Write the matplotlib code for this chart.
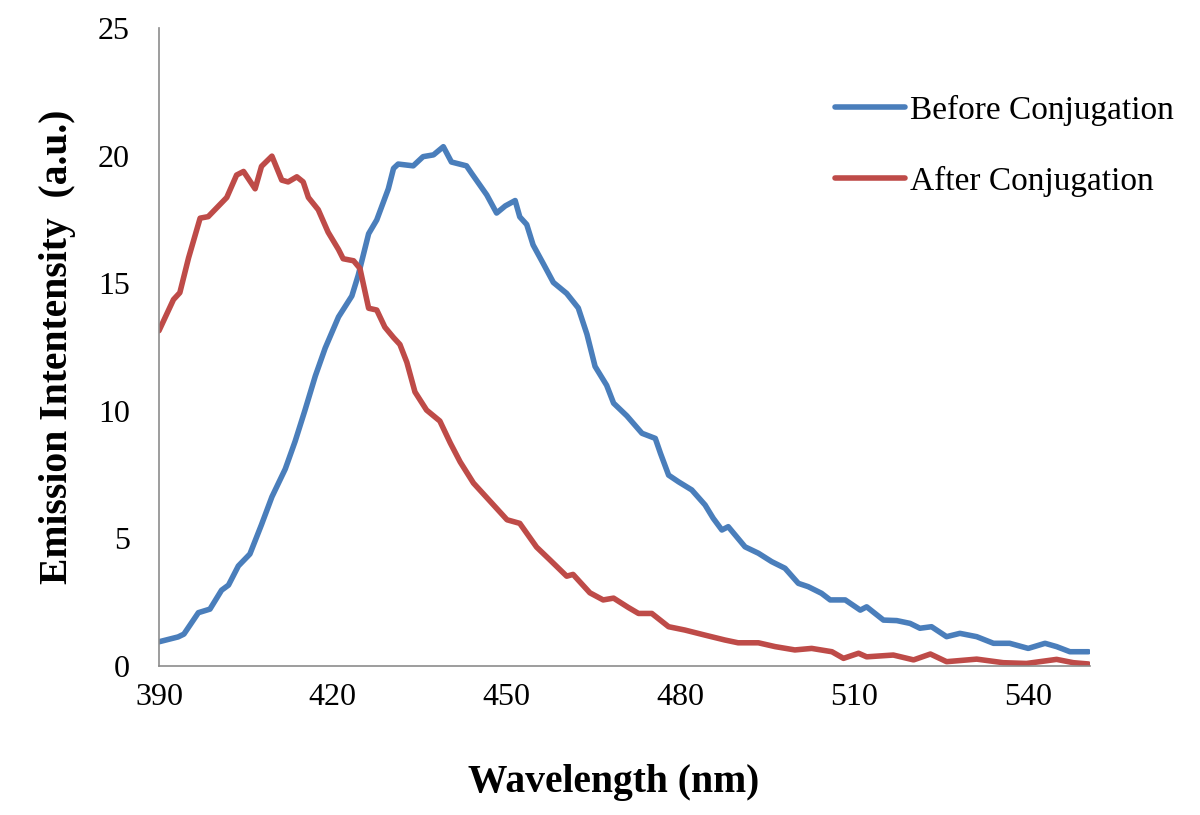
import matplotlib
matplotlib.use("Agg")
import matplotlib.pyplot as plt

# before conjugation (blue)
before_wl = [390.0, 393.3, 394.3, 396.8, 398.8, 400.8, 402.0, 403.7, 405.7, 407.7,
             409.5, 411.8, 413.5, 415.2, 417.0, 418.7, 421.0, 423.3, 424.4, 426.2,
             427.6, 429.6, 430.5, 431.3, 433.9, 435.6, 437.4, 439.1, 440.5, 443.1,
             444.0, 446.6, 448.3, 449.8, 451.5, 452.3, 453.5, 454.6, 456.4, 458.1,
             460.4, 462.4, 463.9, 465.3, 467.3, 468.5, 470.8, 473.4, 475.7, 476.6,
             478.0, 479.7, 482.0, 484.3, 485.7, 487.2, 488.3, 491.2, 493.5, 495.8,
             498.1, 500.4, 502.1, 504.4, 505.9, 508.5, 511.1, 512.2, 515.1, 517.4,
             519.7, 521.4, 523.4, 526.0, 528.3, 531.2, 534.1, 536.9, 540.1, 543.0,
             545.0, 547.3, 550.5]
before_int = [0.95, 1.14, 1.25, 2.09, 2.23, 2.97, 3.17, 3.92, 4.39, 5.54,
              6.63, 7.72, 8.8, 10.02, 11.37, 12.46, 13.68, 14.5, 15.31, 16.94,
              17.48, 18.7, 19.5, 19.67, 19.6, 19.96, 20.03, 20.35, 19.75, 19.6,
              19.3, 18.46, 17.75, 18.03, 18.24, 17.6, 17.3, 16.5, 15.75, 15.03,
              14.6, 14.03, 13.0, 11.74, 11.0, 10.3, 9.8, 9.12, 8.92, 8.33,
              7.48, 7.22, 6.9, 6.31, 5.79, 5.33, 5.46, 4.67, 4.42, 4.09,
              3.83, 3.24, 3.11, 2.85, 2.59, 2.59, 2.19, 2.32, 1.8, 1.78,
              1.67, 1.48, 1.54, 1.15, 1.28, 1.15, 0.89, 0.89, 0.69, 0.89,
              0.76, 0.56, 0.56]

# after conjugation (red)
after_wl = [390.0, 392.5, 393.6, 395.1, 397.1, 398.5, 401.7, 403.4, 404.6, 406.6,
            407.7, 409.5, 411.2, 412.3, 413.8, 414.9, 415.8, 417.5, 419.2, 421.0,
            421.8, 423.6, 424.7, 426.2, 427.6, 429.0, 430.5, 431.6, 432.8, 434.2,
            436.2, 438.5, 440.3, 442.0, 444.3, 447.2, 450.1, 452.3, 455.2, 457.5,
            460.4, 461.5, 464.4, 466.7, 468.5, 471.0, 472.8, 475.1, 478.0, 480.8,
            484.3, 487.7, 490.0, 493.5, 496.4, 499.8, 502.7, 506.2, 508.2, 510.8,
            512.2, 516.8, 520.3, 523.2, 526.0, 531.2, 535.8, 539.8, 545.0, 547.9,
            550.5]
after_int = [13.14, 14.36, 14.63, 15.99, 17.55, 17.61, 18.36, 19.24, 19.38, 18.7,
             19.58, 19.98, 19.04, 18.97, 19.17, 18.97, 18.36, 17.88, 17.0, 16.32,
             15.96, 15.88, 15.58, 14.02, 13.95, 13.28, 12.87, 12.6, 11.9, 10.74,
             10.03, 9.6, 8.74, 8.0, 7.17, 6.45, 5.73, 5.59, 4.66, 4.16,
             3.52, 3.59, 2.87, 2.59, 2.66, 2.3, 2.06, 2.06, 1.54, 1.41,
             1.21, 1.02, 0.91, 0.91, 0.76, 0.63, 0.69, 0.56, 0.3, 0.5,
             0.36, 0.43, 0.24, 0.47, 0.17, 0.27, 0.13, 0.1, 0.26, 0.13,
             0.08]

xticks = [390, 420, 450, 480, 510, 540]
yticks = [0, 5, 10, 15, 20, 25]

plt.rcParams['font.family'] = ['Liberation Serif', 'DejaVu Serif']

fig = plt.figure(figsize=(12, 8.15), dpi=100)
ax = fig.add_axes([0.1325, 0.1828, 0.776, 0.7828])

ax.plot(before_wl, before_int, color='#4A7EBB', lw=4.0, label='Before Conjugation',
        solid_joinstyle='round', solid_capstyle='round')
ax.plot(after_wl, after_int, color='#BE4B48', lw=4.0, label='After Conjugation',
        solid_joinstyle='round', solid_capstyle='round')

ax.set_xlim(390, 550.8)
ax.set_ylim(0, 25)
ax.set_xticks(xticks)
ax.set_yticks(yticks)
ax.tick_params(length=0, labelsize=23)
ax.tick_params(axis='x', pad=12)
ax.tick_params(axis='y', pad=21)

for s in ['top', 'right']:
    ax.spines[s].set_visible(False)
for s in ['left', 'bottom']:
    ax.spines[s].set_color('#8C8C8C')
    ax.spines[s].set_linewidth(1.2)

ax.set_xlabel('Wavelength (nm)', fontsize=28.5, fontweight='bold')
ax.xaxis.set_label_coords(0.4877, -0.153)
ax.set_ylabel('Emission Intentensity  (a.u.)', fontsize=28.5, fontweight='bold', labelpad=16)

fig.legend(loc='upper left', bbox_to_anchor=(835 / 1200, 1 - 95 / 815),
           frameon=False, fontsize=24, handlelength=2.1, handletextpad=0.15,
           labelspacing=1.2, borderpad=0, borderaxespad=0)

fig.savefig('out.png', dpi=100)
